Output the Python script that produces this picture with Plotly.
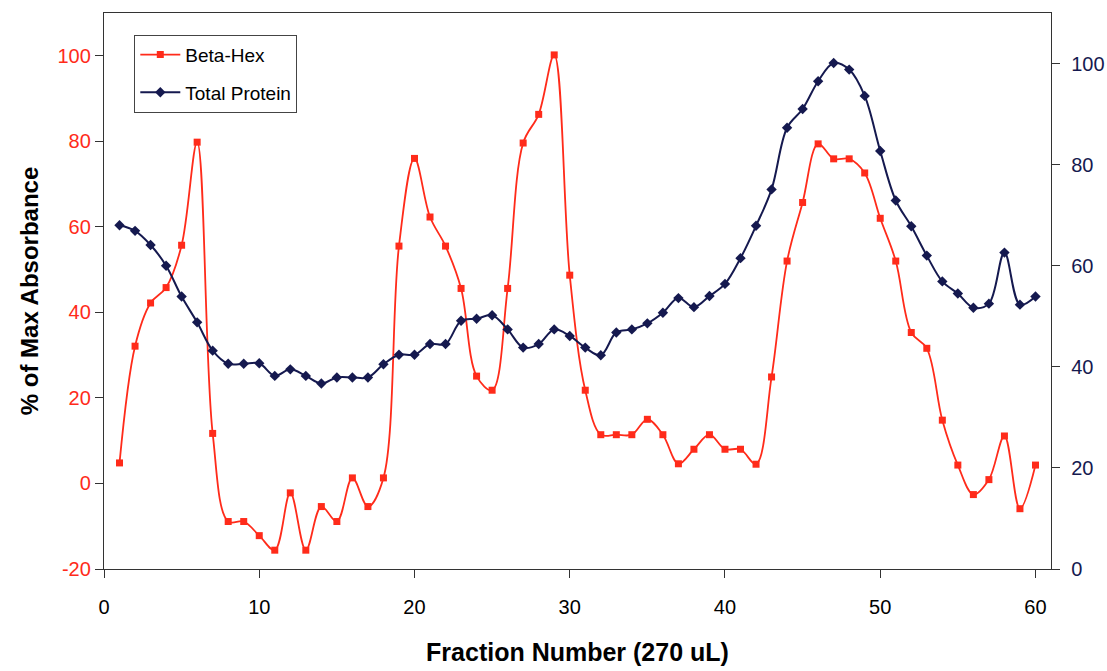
import plotly.graph_objects as go

fractions = list(range(1, 61))

beta_hex = [4.8, 32.1, 42.2, 45.8, 55.7, 79.8, 11.7, -8.9, -8.9, -12.2,
            -15.6, -2.2, -15.6, -5.4, -8.9, 1.3, -5.4, 1.3, 55.5, 76.0,
            62.3, 55.5, 45.6, 25.1, 21.8, 45.6, 79.6, 86.3, 100.2, 48.7,
            21.8, 11.4, 11.4, 11.4, 15.0, 11.4, 4.6, 8.0, 11.4, 8.0,
            8.0, 4.5, 24.9, 52.0, 65.7, 79.4, 75.9, 75.9, 72.6, 62.0,
            52.0, 35.3, 31.6, 14.8, 4.3, -2.6, 0.9, 11.1, -5.9, 4.3]

total_protein = [68.0, 66.9, 64.1, 60.0, 53.9, 48.8, 43.2, 40.6, 40.6, 40.7,
                 38.2, 39.5, 38.2, 36.7, 37.9, 37.9, 37.9, 40.5, 42.4, 42.4,
                 44.5, 44.5, 49.1, 49.5, 50.2, 47.4, 43.8, 44.5, 47.4, 46.1,
                 43.8, 42.3, 46.8, 47.4, 48.6, 50.7, 53.6, 51.8, 54.0, 56.4,
                 61.5, 67.9, 75.1, 87.3, 91.0, 96.5, 100.1, 98.8, 93.6, 82.7,
                 72.9, 67.8, 62.0, 56.9, 54.5, 51.7, 52.5, 62.6, 52.3, 53.9]

left_ticks = [-20, 0, 20, 40, 60, 80, 100]
left_tick_text = ["-20", "0", "20", "40", "60", "80", "100"]
right_ticks = [0, 20, 40, 60, 80, 100]
x_ticks = [0, 10, 20, 30, 40, 50, 60]

RED = "#FF2B1A"
NAVY = "#15194F"
FONT = "Arial, Liberation Sans, sans-serif"

fig = go.Figure()
fig.add_trace(go.Scatter(
    x=fractions, y=beta_hex, name="Beta-Hex", mode="lines+markers",
    line=dict(color=RED, width=1.8, shape="spline", smoothing=1.0),
    marker=dict(symbol="square", size=7, color=RED),
    legendgroup="a", yaxis="y"))
fig.add_trace(go.Scatter(
    x=fractions, y=total_protein, name="Total Protein", mode="lines+markers",
    line=dict(color=NAVY, width=2, shape="spline", smoothing=1.0),
    marker=dict(symbol="diamond", size=8, color=NAVY),
    legendgroup="b", yaxis="y2"))

fig.update_layout(
    width=1107, height=671,
    margin=dict(l=104, r=56, t=13, b=102),
    paper_bgcolor="white", plot_bgcolor="white",
    font=dict(family=FONT, color="black"),
    showlegend=True,
    legend=dict(x=0.032, y=0.961, xanchor="left", yanchor="top",
                bgcolor="white", bordercolor="#444444", borderwidth=1,
                font=dict(size=19, family=FONT, color="black"),
                tracegroupgap=10, itemwidth=40),
    xaxis=dict(range=[0, 61], tickvals=x_ticks, ticks="outside", ticklen=8,
               tickcolor="#333333", showline=True, linecolor="#333333",
               linewidth=1.3, mirror=True, showgrid=False, zeroline=False,
               ticklabelstandoff=12, automargin=False,
               tickfont=dict(size=20, color="black"),
               title=dict(text="<b>Fraction Number (270 uL)</b>",
                          font=dict(size=25, color="black"), standoff=26)),
    yaxis=dict(range=[-20, 110], tickvals=left_ticks, ticktext=left_tick_text,
               ticks="outside", ticklen=8, tickcolor="#333333", showline=True,
               linecolor="#333333", linewidth=1.3, showgrid=False,
               zeroline=False, automargin=False,
               tickfont=dict(size=20, color=RED),
               title=dict(text="<b>% of Max Absorbance</b>",
                          font=dict(size=24, color="black"), standoff=12)),
    yaxis2=dict(range=[0, 110], tickvals=right_ticks, overlaying="y",
                side="right", ticks="outside", ticklen=8,
                tickcolor="#333333", showline=True, linecolor="#333333",
                linewidth=1.3, showgrid=False, zeroline=False,
                ticklabelstandoff=7, automargin=False,
                tickfont=dict(size=20, color=NAVY)),
    yaxis3=dict(range=[0, 110], tickvals=right_ticks, overlaying="y",
                side="right", anchor="x", ticks="inside", ticklen=8,
                tickcolor="#333333", showticklabels=False, showline=False,
                showgrid=False, zeroline=False, automargin=False),
)

fig.write_html("out.html")
